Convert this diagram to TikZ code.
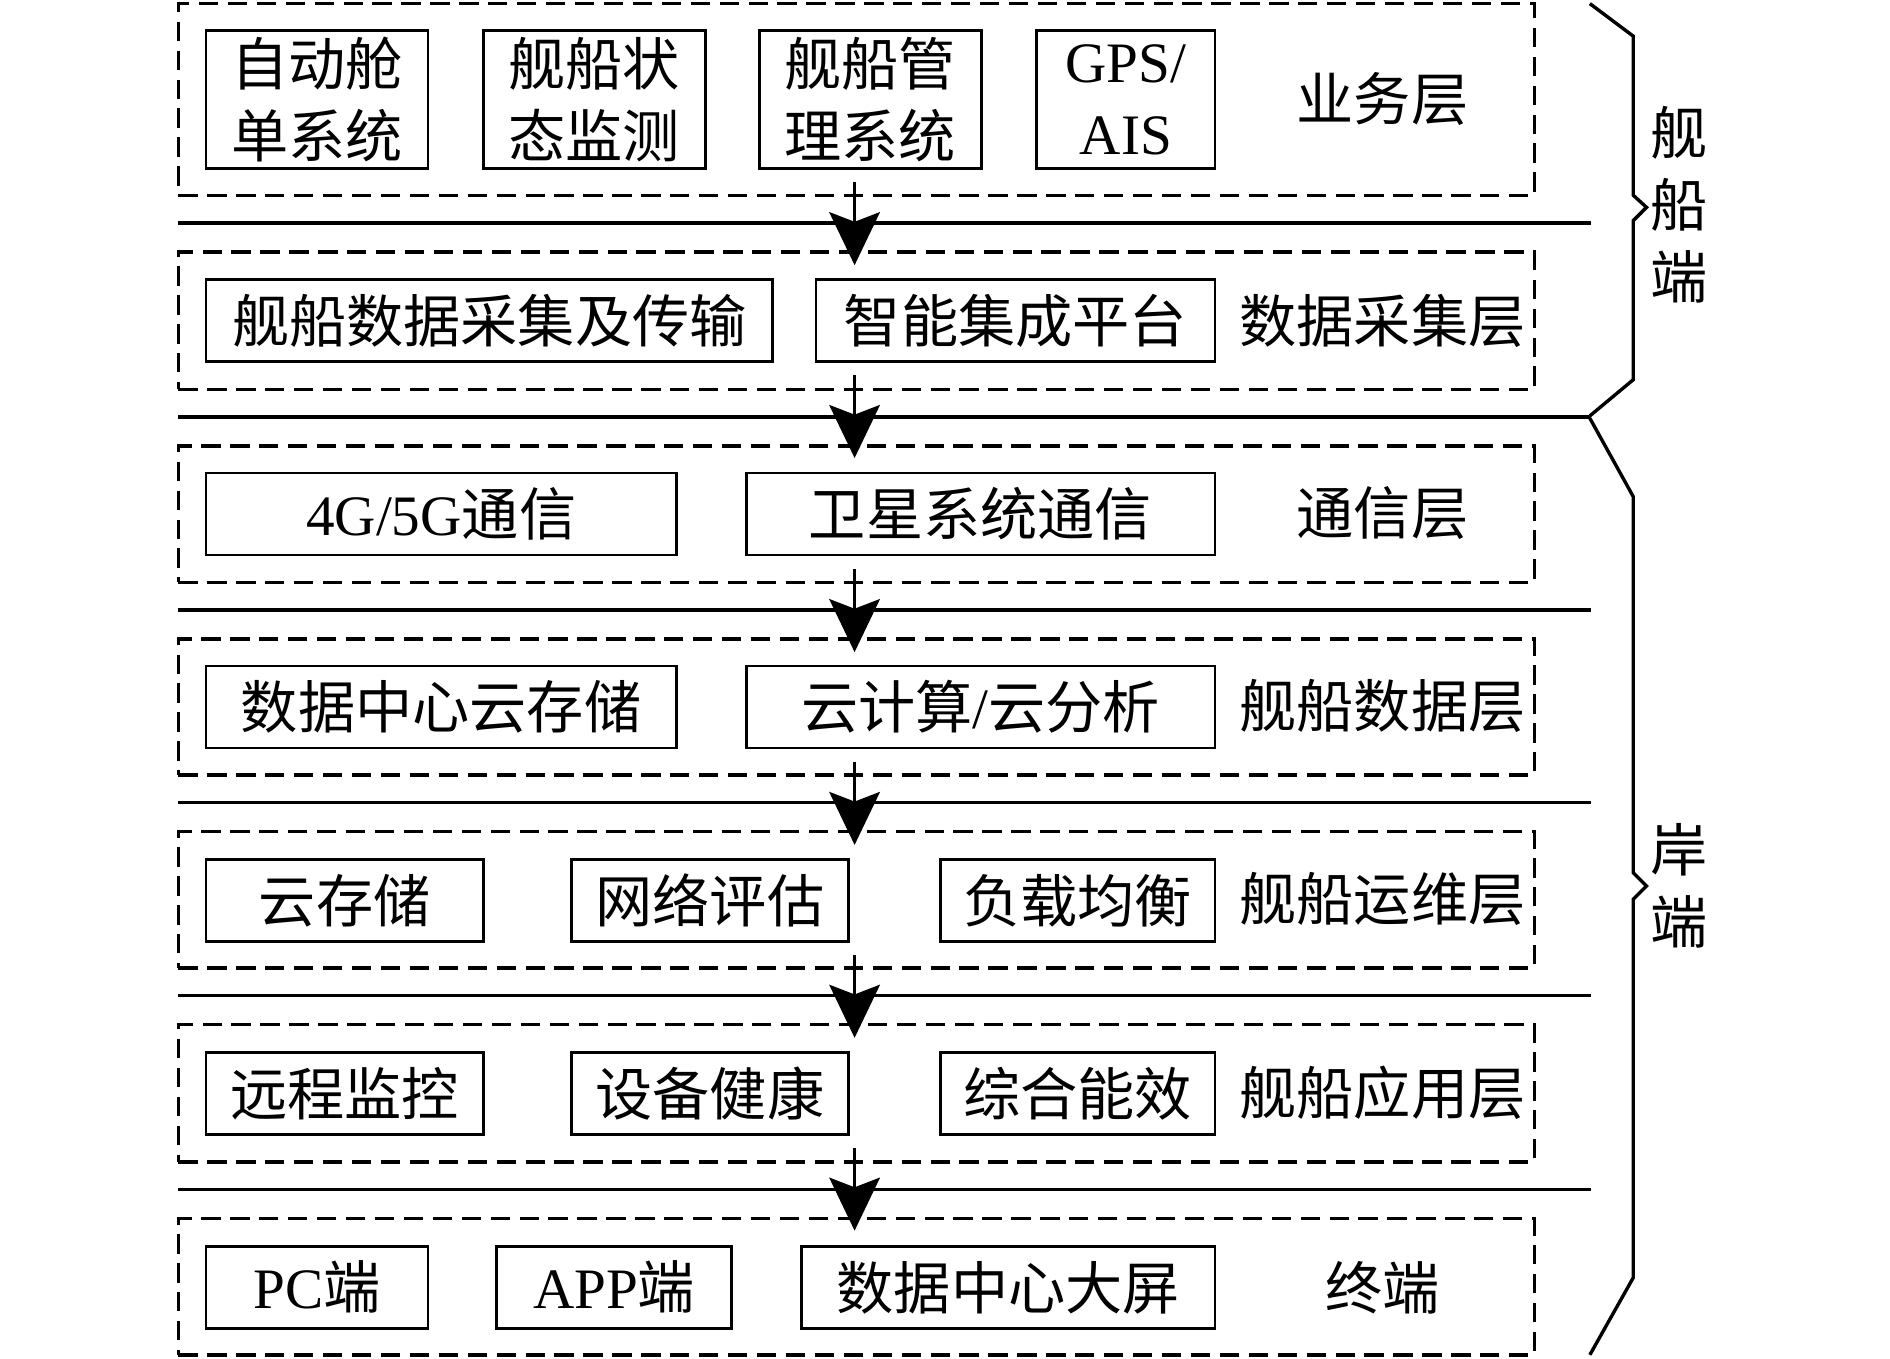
\documentclass[tikz,border=0pt]{standalone}
\usepackage{fontspec}
\setmainfont{Liberation Serif}
\newfontfamily\cjk{Noto Sans CJK SC}
\usetikzlibrary{arrows.meta}
\begin{document}
\begin{tikzpicture}[x=0.1mm,y=-0.1mm,
  txt/.style={font=\fontsize{13.5}{17}\selectfont\cjk, inner sep=0pt},
  box/.style={txt, draw, line width=0.65pt, minimum height=6.8mm, align=center},
  layer/.style={draw, dash pattern=on 1.6mm off 0.8mm, line width=0.8pt, inner sep=0pt, minimum width=112.5mm},
  sep/.style={line width=0.8pt},
  flow/.style={line width=0.7pt, -{Stealth[length=4.4mm,width=4.2mm,inset=0.8mm]}},
  brace/.style={line width=0.8pt, line join=miter}
]
\useasboundingbox (0,0) rectangle (1568,1127);

% layers
\node[layer, minimum height=15.9mm] (L1) at (710.5,82.5) {};
\node[layer, minimum height=11.4mm] (L2) at (710.5,266) {};
\node[layer, minimum height=11.3mm] (L3) at (710.5,426.5) {};
\node[layer, minimum height=11.3mm] (L4) at (710.5,586.5) {};
\node[layer, minimum height=11.3mm] (L5) at (710.5,746.5) {};
\node[layer, minimum height=11.4mm] (L6) at (710.5,907) {};
\node[layer, minimum height=11.3mm] (L7) at (710.5,1067.5) {};

% separators
\foreach \yy in {185,346,506,666,826,987}{
  \draw[sep] (148,\yy) -- (1320,\yy);
}

% layer 1
\node[box, minimum width=18.4mm, minimum height=11.5mm] (a1) at (263,82.5) {自动舱\\单系统};
\node[box, minimum width=18.4mm, minimum height=11.5mm] (a2) at (493,82.5) {舰船状\\态监测};
\node[box, minimum width=18.4mm, minimum height=11.5mm] (a3) at (722,82.5) {舰船管\\理系统};
\node[box, minimum width=14.8mm, minimum height=11.5mm, font=\fontsize{13.5}{17}\selectfont\rmfamily] (a4) at (934,82.5) {GPS/\\AIS};
\node[txt] (l1) at (1147,82) {业务层};

% layer 2
\node[box, minimum width=47mm] (b1) at (406,266) {舰船数据采集及传输};
\node[box, minimum width=33.1mm] (b2) at (842.5,266) {智能集成平台};
\node[txt] (l2) at (1147,266) {数据采集层};

% layer 3
\node[box, minimum width=39mm] (c1) at (366,426.5) {{\rmfamily 4G/5G}通信};
\node[box, minimum width=38.9mm] (c2) at (813.5,426.5) {卫星系统通信};
\node[txt] (l3) at (1147,426) {通信层};

% layer 4
\node[box, minimum width=39mm] (d1) at (366,586.5) {数据中心云存储};
\node[box, minimum width=38.9mm] (d2) at (813.5,586.5) {云计算{\rmfamily /}云分析};
\node[txt] (l4) at (1147,586) {舰船数据层};

% layer 5
\node[box, minimum width=23mm] (e1) at (286,747) {云存储};
\node[box, minimum width=23mm] (e2) at (589,747) {网络评估};
\node[box, minimum width=22.8mm] (e3) at (894,747) {负载均衡};
\node[txt] (l5) at (1147,746) {舰船运维层};

% layer 6
\node[box, minimum width=23mm] (f1) at (286,907) {远程监控};
\node[box, minimum width=23mm] (f2) at (589,907) {设备健康};
\node[box, minimum width=22.8mm] (f3) at (894,907) {综合能效};
\node[txt] (l6) at (1147,907) {舰船应用层};

% layer 7
\node[box, minimum width=18.4mm] (g1) at (263,1068) {{\rmfamily PC}端};
\node[box, minimum width=19.5mm] (g2) at (509.5,1068) {{\rmfamily APP}端};
\node[box, minimum width=34.3mm] (g3) at (836.5,1068) {数据中心大屏};
\node[txt] (l7) at (1147,1068) {终端};

% arrows
\foreach \i/\s/\t in {1/151/220, 2/311/380, 3/472/541, 4/632/701, 5/792/861, 6/952/1021}{
  \coordinate (s\i) at (709,\s);
  \coordinate (t\i) at (709,\t);
  \draw[flow] (s\i) -- (t\i);
}

% braces
\draw[brace] (1319,3) -- (1355,30) -- (1355,162) -- (1366,172) -- (1355,183) -- (1355,315) -- (1319,345);
\draw[brace] (1319,347) -- (1355,412) -- (1355,724) -- (1366,735) -- (1355,746) -- (1355,1060) -- (1319,1124);

\node[txt, align=center] (side1) at (1393,170) {舰\\船\\端};
\node[txt, align=center] (side2) at (1393,735) {岸\\端};
\end{tikzpicture}
\end{document}
